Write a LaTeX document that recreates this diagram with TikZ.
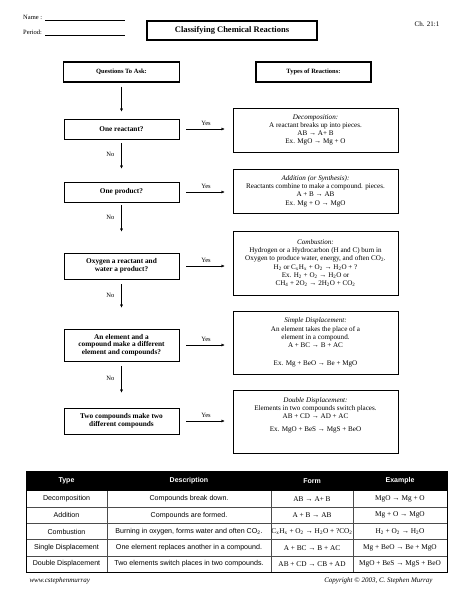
\documentclass[tikz,border=0pt]{standalone}
\usepackage{fontspec}
\setmainfont{Liberation Serif}
\setsansfont{Liberation Sans}
\usetikzlibrary{arrows.meta}
\newcommand{\csub}[1]{\textsubscript{#1}}

\begin{document}
\begin{tikzpicture}[x=1pt,y=-1pt,>={Latex[length=3.2pt,width=3pt]},
  headbox/.style={draw,line width=1.1pt,minimum width=116pt,minimum height=20pt,
    font=\fontsize{6.5}{7.5}\selectfont\bfseries},
  askbox/.style={draw,line width=0.6pt,minimum width=115pt,align=center,inner sep=0pt,
    font=\fontsize{7.3}{7.6}\selectfont\bfseries},
  typebox/.style={draw,line width=0.6pt,minimum width=165pt,align=center,inner sep=0pt,
    font=\fontsize{7.1}{8.2}\selectfont},
  small/.style={font=\fontsize{6.5}{7.5}\selectfont,inner sep=1pt},
  yesarrow/.style={->,shorten <=7pt,shorten >=8pt},
  cell/.style={font=\fontsize{7.1}{8}\selectfont\sffamily,inner sep=0pt},
  headcell/.style={font=\fontsize{7}{8}\selectfont\sffamily\bfseries,text=white,inner sep=0pt},
  formcell/.style={font=\fontsize{7.3}{8}\selectfont,inner sep=0pt}
]
  \path[use as bounding box,fill=white] (0,0) rectangle (464,600);

  % heading
  \node[small,anchor=west] (name) at (22,17) {Name :};
  \node[small,anchor=west] (period) at (22,32) {Period:};
  \draw[line width=0.6pt] (45,20.5) -- (125,20.5);
  \draw[line width=0.6pt] (45,35.5) -- (125,35.5);
  \node[draw,line width=1.1pt,minimum width=170pt,minimum height=19pt,
    font=\fontsize{8.5}{10}\selectfont\bfseries] (title) at (232,30.5) {Classifying Chemical Reactions};
  \node[font=\fontsize{7}{8}\selectfont] (chap) at (427,24) {Ch. 21:1};

  % flow chart
  \node[headbox] (asks) at (121.5,72) {Questions To Ask:};
  \node[headbox,minimum width=115pt] (types) at (313.5,72) {Types of Reactions:};

  \node[askbox,minimum height=20pt] (ask1) at (121.5,129) {One reactant?};
  \node[askbox,minimum height=20pt] (ask2) at (121.5,192) {One product?};
  \node[askbox,minimum height=26pt] (ask3) at (121.5,266) {Oxygen a reactant and\\water a product?};
  \node[askbox,minimum height=32pt] (ask4) at (121.5,345) {An element and a\\compound make a different\\element and compounds?};
  \node[askbox,minimum height=26pt] (ask5) at (121.5,421) {Two compounds make two\\different compounds};

  \node[typebox,minimum height=44pt] (decomp) at (315.5,130)
    {\textit{Decomposition:}\\A reactant breaks up into pieces.\\AB → A+ B\\Ex. MgO → Mg + O};
  \node[typebox,minimum height=44pt] (addit) at (315.5,191)
    {\textit{Addition (or Synthesis):}\\Reactants combine to make a compound. pieces.\\A + B → AB\\Ex. Mg + O → MgO};
  \node[typebox,minimum height=64pt] (combust) at (315.5,263)
    {\textit{Combustion:}\\Hydrogen or a Hydrocarbon (H and C) burn in\\Oxygen to produce water, energy, and often CO\csub{2}.\\
     H\csub{2} or C\csub{x}H\csub{x} + O\csub{2} → H\csub{2}O + ?\\Ex. H\csub{2} + O\csub{2} → H\csub{2}O or\\
     CH\csub{4} + 2O\csub{2} → 2H\csub{2}O + CO\csub{2}};
  \node[typebox,minimum height=63pt] (single) at (315.5,342.5)
    {\textit{Simple Displacement:}\\An element takes the place of a\\element in a compound.\\A + BC → B + AC\\[10pt]Ex. Mg + BeO → Be + MgO};
  \node[typebox,minimum height=63pt] (double) at (315.5,421.5)
    {\textit{Double Displacement:}\\Elements in two compounds switch places.\\AB + CD → AD + AC\\[5pt]Ex. MgO + BeS → MgS + BeO\\[6pt]\mbox{}};

  \draw[->,shorten <=4pt,shorten >=7pt] (asks) -- (ask1);
  \draw[->,shorten <=4pt,shorten >=13pt] (ask1) -- node[small,at start,left=6pt,yshift=-15pt] {No} (ask2);
  \draw[->,shorten <=3pt,shorten >=21pt] (ask2) -- node[small,at start,left=6pt,yshift=-15pt] {No} (ask3);
  \draw[->,shorten <=5pt,shorten >=21pt] (ask3) -- node[small,at start,left=6pt,yshift=-16pt] {No} (ask4);
  \draw[->,shorten <=5pt,shorten >=15pt] (ask4) -- node[small,at start,left=6pt,yshift=-17pt] {No} (ask5);

  \draw[yesarrow] (ask1.east) -- node[small,above=2pt] {Yes} (ask1.east -| decomp.west);
  \draw[yesarrow] (ask2.east) -- node[small,above=2pt] {Yes} (ask2.east -| addit.west);
  \draw[yesarrow] (ask3.east) -- node[small,above=2pt] {Yes} (ask3.east -| combust.west);
  \draw[yesarrow] (ask4.east) -- node[small,above=2pt] {Yes} (ask4.east -| single.west);
  \draw[yesarrow] (ask5.east) -- node[small,above=2pt] {Yes} (ask5.east -| double.west);

  % table
  \fill (26,471) rectangle (447,491);
  \foreach \y in {507.2,523.4,539.6,555.8}
    \draw[black!70,line width=0.5pt] (26,\y) -- (447,\y);
  \foreach \x in {107,271,353}
    \draw[black!70,line width=0.5pt] (\x,491) -- (\x,572);
  \draw[line width=0.9pt] (26,471) rectangle (447,572);

  \node[headcell] (hd1) at (66.5,481) {Type};
  \node[headcell] (hd2) at (189,481) {Description};
  \node[headcell] (hd3) at (312,481) {Form};
  \node[headcell] (hd4) at (400,481) {Example};

  \foreach \typ/\desc/\form/\ex [count=\r] in {
    Decomposition/Compounds break down./AB → A+ B/MgO → Mg + O,
    Addition/Compounds are formed./A + B → AB/Mg + O → MgO,
    Combustion/{Burning in oxygen, forms water and often CO\csub{2}.}/C\csub{x}H\csub{x} + O\csub{2} → H\csub{2}O + ?CO\csub{2}/H\csub{2} + O\csub{2} → H\csub{2}O,
    Single Displacement/One element replaces another in a compound./A + BC → B + AC/Mg + BeO → Be + MgO,
    Double Displacement/Two elements switch places in two compounds./AB + CD → CB + AD/MgO + BeS → MgS + BeO}
  {
    \node[cell] (typ\r) at (66.5,{482.9+16.2*\r}) {\typ};
    \node[cell] (desc\r) at (189,{482.9+16.2*\r}) {\desc};
    \node[formcell] (form\r) at (312,{482.9+16.2*\r}) {\form};
    \node[formcell] (ex\r) at (400,{482.9+16.2*\r}) {\ex};
  }

  % footer
  \node[anchor=west,font=\fontsize{7}{8}\selectfont\itshape] (web) at (26,581) {www.cstephenmurray};
  \node[anchor=east,font=\fontsize{7}{8}\selectfont\itshape] (copy) at (436,581) {Copyright © 2003, C. Stephen Murray};
\end{tikzpicture}
\end{document}
